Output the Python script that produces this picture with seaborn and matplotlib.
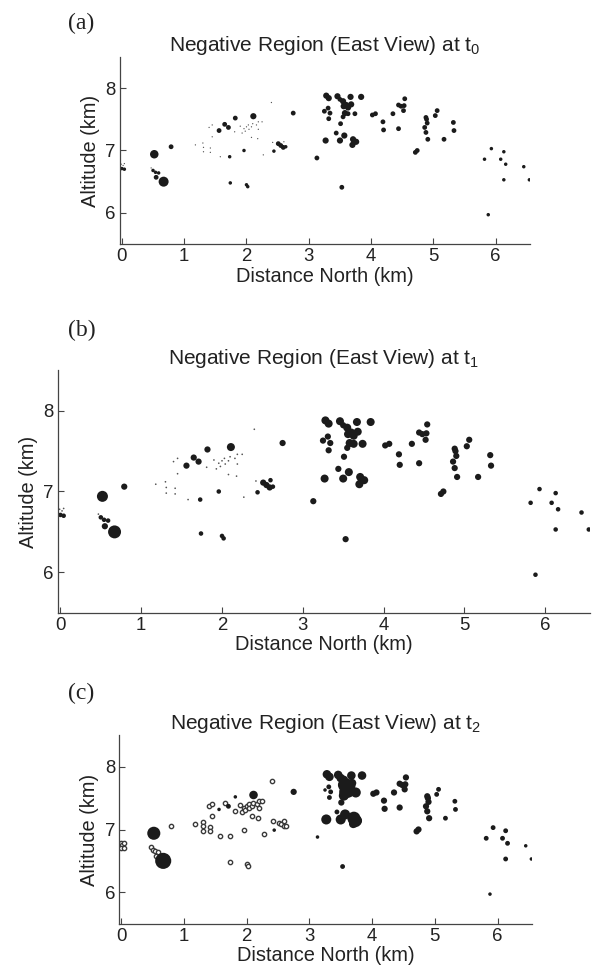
import numpy as np
import pandas as pd
import seaborn as sns
import matplotlib
matplotlib.use("Agg")
import matplotlib.pyplot as plt

# ---------------- data ----------------
# source positions (km)
x_km = [-0.01, 0.02, 0.04, 0.00, 0.04, 0.47, 0.50, 0.54, 0.59, 0.55,
        0.52, 0.67, 0.79,
        1.18, 1.30, 1.31, 1.31, 1.42, 1.42, 1.45, 1.40, 1.45, 1.58,
        1.56, 1.65, 1.71, 1.82, 1.73, 1.74, 1.96, 2.00, 2.02, 2.11,
        1.81, 1.90, 1.93, 1.96, 1.98, 2.00, 2.03, 2.04, 2.08, 2.10,
        2.16, 2.19, 2.25, 2.19, 2.08, 2.18, 2.27, 2.40,
        2.44, 2.42, 2.51, 2.55, 2.59, 2.60, 2.63,
        2.75, 3.13, 3.27,
        3.28, 3.32, 3.25, 3.31, 3.34, 3.32, 3.44, 3.46, 3.50, 3.55,
        3.67, 3.84, 3.56, 3.60, 3.63, 3.68, 3.58, 3.63, 3.74, 3.55,
        3.51, 3.50, 3.57, 3.71, 3.73, 3.76, 3.70, 3.53,
        4.02, 4.07, 4.19, 4.20, 4.35, 4.44, 4.48, 4.52, 4.53, 4.54,
        4.44, 4.71, 4.74, 4.88, 4.89, 4.90, 4.86, 4.88, 4.91,
        5.03, 5.06, 5.17, 5.32, 5.33,
        5.82, 5.93, 6.08, 6.13, 6.16, 6.13, 5.88, 6.45, 6.54]
alt_km = [6.78, 6.76, 6.79, 6.71, 6.70, 6.72, 6.68, 6.65, 6.64, 6.57,
          6.94, 6.50, 7.06,
          7.09, 7.12, 7.05, 6.98, 7.04, 6.97, 7.22, 7.37, 7.41, 6.90,
          7.32, 7.42, 7.37, 7.52, 6.90, 6.48, 7.00, 6.45, 6.42, 7.55,
          7.30, 7.39, 7.28, 7.35, 7.31, 7.38, 7.41, 7.34, 7.38, 7.43,
          7.41, 7.46, 7.46, 7.34, 7.21, 7.19, 6.93, 7.77,
          6.99, 7.13, 7.11, 7.08, 7.05, 7.14, 7.06,
          7.60, 6.88, 7.16,
          7.88, 7.84, 7.63, 7.68, 7.60, 7.51, 7.28, 7.87, 7.82, 7.79,
          7.86, 7.86, 7.71, 7.73, 7.69, 7.74, 7.60, 7.59, 7.59, 7.54,
          7.43, 7.16, 7.24, 7.18, 7.14, 7.14, 7.09, 6.41,
          7.57, 7.59, 7.46, 7.33, 7.59, 7.73, 7.71, 7.64, 7.72, 7.83,
          7.35, 6.97, 7.00, 7.53, 7.50, 7.44, 7.37, 7.29, 7.18,
          7.56, 7.64, 7.18, 7.45, 7.32,
          6.86, 7.03, 6.86, 6.98, 6.78, 6.53, 5.97, 6.74, 6.53]
# marker-size class of every source at t0, t1, t2
size_t0 = [0, 0, 0, 1, 1, 0, 1, 1, 1, 2,
           4, 5, 2,
           0, 0, 0, 0, 0, 0, 0, 0, 0, 0,
           2, 2, 2, 2, 1, 1, 1, 1, 1, 3,
           0, 0, 0, 0, 0, 0, 0, 0, 0, 0,
           0, 0, 0, 0, 0, 0, 0, 0,
           1, 0, 2, 2, 2, 0, 1,
           2, 2, 3,
           3, 3, 2, 2, 2, 2, 2, 3, 2, 3,
           3, 3, 3, 3, 3, 3, 3, 2, 2, 2,
           2, 3, 3, 3, 3, 3, 3, 2,
           2, 2, 2, 2, 2, 2, 2, 2, 2, 2,
           2, 2, 2, 2, 2, 2, 2, 2, 2,
           2, 2, 2, 2, 2,
           1, 1, 1, 1, 1, 1, 1, 1, 1]
size_t1 = [0, 0, 0, 1, 1, 0, 1, 1, 1, 2,
           4, 5, 2,
           0, 0, 0, 0, 0, 0, 0, 0, 0, 0,
           2, 2, 2, 2, 1, 1, 1, 1, 1, 3,
           0, 0, 0, 0, 0, 0, 0, 0, 0, 0,
           0, 0, 0, 0, 0, 0, 0, 0,
           1, 0, 2, 2, 2, 1, 1,
           2, 2, 3,
           3, 3, 2, 2, 2, 2, 2, 3, 2, 3,
           3, 3, 3, 3, 3, 3, 3, 3, 3, 2,
           2, 3, 3, 3, 3, 3, 3, 2,
           2, 2, 2, 2, 2, 2, 2, 2, 2, 2,
           2, 2, 2, 2, 2, 2, 2, 2, 2,
           2, 2, 2, 2, 2,
           1, 1, 1, 1, 1, 1, 1, 1, 1]
size_t2 = [2, 2, 2, 2, 2, 2, 2, 2, 2, 2,
           6, 7, 2,
           2, 2, 2, 2, 2, 2, 2, 2, 2, 2,
           1, 2, 2, 1, 2, 2, 2, 2, 2, 4,
           2, 2, 2, 2, 2, 2, 2, 2, 2, 2,
           2, 2, 2, 2, 2, 2, 2, 2,
           1, 2, 2, 2, 2, 2, 2,
           3, 1, 5,
           4, 4, 1, 2, 2, 2, 2, 4, 4, 4,
           4, 4, 6, 5, 6, 4, 6, 5, 5, 5,
           3, 5, 5, 6, 6, 5, 4, 2,
           3, 3, 3, 3, 3, 3, 3, 3, 3, 3,
           3, 3, 3, 3, 3, 3, 3, 3, 3,
           2, 2, 2, 2, 2,
           2, 2, 2, 2, 2, 2, 1, 1, 1]
# 1 = drawn as an open circle at t2
open_t2 = [1, 1, 1, 1, 1, 1, 1, 1, 1, 1,
           0, 0, 1,
           1, 1, 1, 1, 1, 1, 1, 1, 1, 1,
           0, 1, 0, 0, 1, 1, 1, 1, 1, 0,
           1, 1, 1, 1, 1, 1, 1, 1, 1, 1,
           1, 1, 1, 1, 1, 1, 1, 1,
           0, 1, 1, 1, 1, 1, 1,
           0, 0, 0,
           0, 0, 0, 0, 0, 0, 0, 0, 0, 0,
           0, 0, 0, 0, 0, 0, 0, 0, 0, 0,
           0, 0, 0, 0, 0, 0, 0, 0,
           0, 0, 0, 0, 0, 0, 0, 0, 0, 0,
           0, 0, 0, 0, 0, 0, 0, 0, 0,
           0, 0, 0, 0, 0,
           0, 0, 0, 0, 0, 0, 0, 0, 0]
panel_letters = ["(a)", "(b)", "(c)"]
time_labels = ["0", "1", "2"]
x_ticks = [0, 1, 2, 3, 4, 5, 6]
y_ticks = [6, 7, 8]

df = pd.DataFrame({"x": x_km, "z": alt_km, "s0": size_t0, "s1": size_t1,
                   "s2": size_t2, "open2": open_t2})

# ---------------- style ----------------
sns.set_style("ticks")
plt.rcParams["font.family"] = ["Liberation Sans", "DejaVu Sans"]
plt.rcParams["mathtext.fontset"] = "custom"
plt.rcParams["mathtext.rm"] = "Liberation Sans"
plt.rcParams["mathtext.it"] = "Liberation Sans"

W, H = 593, 977
fig = plt.figure(figsize=(W / 100, H / 100), dpi=100)

DIAM = {0: 1.3, 1: 3.5, 2: 4.8, 3: 6.2, 4: 8.5, 5: 10.0, 6: 13.0, 7: 16.0}
DOT = "#1b1b1b"

# axes boxes in pixels: left, top, right, bottom
boxes = [(120, 57, 530, 244), (58, 370.3, 589.6, 612.7), (119.3, 735.4, 532, 923.6)]
letter_y = [23, 330, 693]


def sizes_for(scale):
    return {k: (0.72 * d * scale) ** 2 for k, d in DIAM.items()}


for i, (l, t, r, b) in enumerate(boxes):
    ax = fig.add_axes([l / W, 1 - b / H, (r - l) / W, (b - t) / H])
    scale = ((r - l) / 6.58) / 62.3
    col = "s%d" % i
    sz = sizes_for(scale)
    if i < 2:
        tiny = df[df[col] == 0]
        rest = df[df[col] > 0]
        sns.scatterplot(data=tiny, x="x", y="z", s=sz[0], color="#555555",
                        edgecolor="none", linewidth=0, legend=False, ax=ax)
        sns.scatterplot(data=rest, x="x", y="z", size=col, sizes=sz,
                        color=DOT, edgecolor="none", linewidth=0,
                        legend=False, ax=ax)
    else:
        opn = df[df["open2"] == 1]
        fil = df[df["open2"] == 0]
        sns.scatterplot(data=opn, x="x", y="z", s=(0.72 * 4.3) ** 2,
                        color="white", edgecolor="#3a3a3a", linewidth=1.0,
                        legend=False, ax=ax)
        sns.scatterplot(data=fil, x="x", y="z", size=col, sizes=sz,
                        color=DOT, edgecolor="none", linewidth=0,
                        legend=False, ax=ax)
    ax.set_xlim(-0.03, 6.55)
    ax.set_ylim(5.5, 8.5)
    ax.set_xticks(x_ticks)
    ax.set_yticks(y_ticks)
    sns.despine(ax=ax)
    for sp in ("left", "bottom"):
        ax.spines[sp].set_linewidth(0.9)
        ax.spines[sp].set_color("#444444")
    ax.tick_params(direction="in", length=4, width=0.8, color="#444444",
                   labelsize=13.4, labelcolor="#222222", pad=3)
    ax.set_xlabel("Distance North (km)", fontsize=14.4, color="#222222",
                  labelpad=1)
    ax.set_ylabel("Altitude (km)", fontsize=14.4, color="#222222", labelpad=4)
    ax.set_title(r"Negative Region (East View) at t$_{%s}$" % time_labels[i],
                 fontsize=15, color="#222222", pad=3)
    fig.text(68 / W, 1 - letter_y[i] / H, panel_letters[i],
             family="Liberation Serif", fontsize=17, color="#222222",
             ha="left", va="center")

fig.savefig("out.png", dpi=100)
